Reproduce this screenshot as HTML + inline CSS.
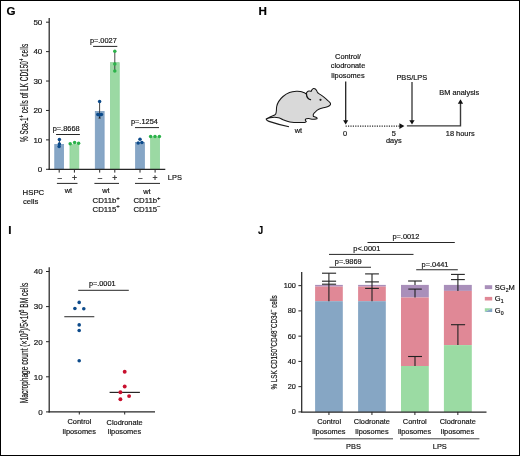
<!DOCTYPE html>
<html><head><meta charset="utf-8"><style>
html,body{margin:0;padding:0;background:#fff;}
body{width:520px;height:456px;overflow:hidden;position:relative;}
#fig{position:absolute;left:0;top:0;width:520px;height:456px;box-sizing:border-box;border:1px solid #000;}
svg{position:absolute;left:0;top:0;will-change:transform;}
text{font-family:"Liberation Sans", sans-serif;stroke:currentColor;stroke-width:0.18px;}
</style></head><body>
<div id="fig"></div>
<svg width="520" height="456" viewBox="0 0 520 456" font-family='"Liberation Sans", sans-serif'>
<text x="6.6" y="14.95" font-size="11.6" font-weight="bold" fill="#000" >G</text>
<line x1="49.2" y1="17.9" x2="49.2" y2="169.9" stroke="#262626" stroke-width="1.25"/>
<line x1="46" y1="169.3" x2="49.2" y2="169.3" stroke="#262626" stroke-width="1"/>
<text x="37.86" y="172.11" font-size="8.0" font-weight="normal" fill="#1c1c1c" >0</text>
<line x1="46" y1="139.88" x2="49.2" y2="139.88" stroke="#262626" stroke-width="1"/>
<text x="33.41" y="142.69" font-size="8.0" font-weight="normal" fill="#1c1c1c" >10</text>
<line x1="46" y1="110.46" x2="49.2" y2="110.46" stroke="#262626" stroke-width="1"/>
<text x="33.41" y="113.27" font-size="8.0" font-weight="normal" fill="#1c1c1c" >20</text>
<line x1="46" y1="81.04" x2="49.2" y2="81.04" stroke="#262626" stroke-width="1"/>
<text x="33.41" y="83.85" font-size="8.0" font-weight="normal" fill="#1c1c1c" >30</text>
<line x1="46" y1="51.62" x2="49.2" y2="51.62" stroke="#262626" stroke-width="1"/>
<text x="33.41" y="54.43" font-size="8.0" font-weight="normal" fill="#1c1c1c" >40</text>
<line x1="46" y1="22.2" x2="49.2" y2="22.2" stroke="#262626" stroke-width="1"/>
<text x="33.41" y="25.01" font-size="8.0" font-weight="normal" fill="#1c1c1c" >50</text>
<rect x="54.75" y="144.35" width="8.9" height="24.95" fill="#86a6c6" stroke="#7a9cbf" stroke-width="0.7"/>
<line x1="59.2" y1="169.3" x2="59.2" y2="172.6" stroke="#262626" stroke-width="1"/>
<rect x="69.95" y="144.55" width="8.9" height="24.75" fill="#9bd9a3" stroke="#8bd297" stroke-width="0.7"/>
<line x1="74.4" y1="169.3" x2="74.4" y2="172.6" stroke="#262626" stroke-width="1"/>
<rect x="95.25" y="111.35" width="8.9" height="57.95" fill="#86a6c6" stroke="#7a9cbf" stroke-width="0.7"/>
<line x1="99.7" y1="169.3" x2="99.7" y2="172.6" stroke="#262626" stroke-width="1"/>
<rect x="110.35" y="62.65" width="8.9" height="106.65" fill="#9bd9a3" stroke="#8bd297" stroke-width="0.7"/>
<line x1="114.8" y1="169.3" x2="114.8" y2="172.6" stroke="#262626" stroke-width="1"/>
<rect x="135.55" y="142.55" width="8.9" height="26.75" fill="#86a6c6" stroke="#7a9cbf" stroke-width="0.7"/>
<line x1="140" y1="169.3" x2="140" y2="172.6" stroke="#262626" stroke-width="1"/>
<rect x="150.65" y="136.95" width="8.9" height="32.35" fill="#9bd9a3" stroke="#8bd297" stroke-width="0.7"/>
<line x1="155.1" y1="169.3" x2="155.1" y2="172.6" stroke="#262626" stroke-width="1"/>
<line x1="48.6" y1="169.3" x2="165.3" y2="169.3" stroke="#262626" stroke-width="1.25"/>
<line x1="59.4" y1="139.4" x2="59.4" y2="146.5" stroke="#333" stroke-width="0.9"/>
<line x1="99.6" y1="101.4" x2="99.6" y2="118.2" stroke="#333" stroke-width="0.9"/>
<line x1="114.8" y1="51.3" x2="114.8" y2="70.9" stroke="#333" stroke-width="0.9"/>
<path d="M98.4,118.6 L100.8,118.6 L99.6,115.8 Z" fill="#222"/>
<circle cx="59.4" cy="139.4" r="1.75" fill="#0c4a8a"/>
<circle cx="59.4" cy="144.1" r="1.75" fill="#0c4a8a"/>
<circle cx="59.1" cy="146.4" r="1.75" fill="#0c4a8a"/>
<circle cx="97.8" cy="114.6" r="1.75" fill="#0c4a8a"/>
<circle cx="101.4" cy="114.6" r="1.75" fill="#0c4a8a"/>
<circle cx="99.6" cy="114.9" r="1.75" fill="#0c4a8a"/>
<circle cx="99.6" cy="101.4" r="1.75" fill="#0c4a8a"/>
<circle cx="140" cy="139.2" r="1.75" fill="#0c4a8a"/>
<circle cx="138.2" cy="143" r="1.75" fill="#0c4a8a"/>
<circle cx="141.9" cy="142.4" r="1.75" fill="#0c4a8a"/>
<circle cx="70.2" cy="143.8" r="1.75" fill="#2cb24a"/>
<circle cx="74.6" cy="142.4" r="1.75" fill="#2cb24a"/>
<circle cx="78.6" cy="143.3" r="1.75" fill="#2cb24a"/>
<circle cx="114.8" cy="51.3" r="1.75" fill="#2cb24a"/>
<circle cx="114.8" cy="64.1" r="1.75" fill="#2cb24a"/>
<circle cx="114.8" cy="70.9" r="1.75" fill="#2cb24a"/>
<circle cx="150.6" cy="136.6" r="1.75" fill="#2cb24a"/>
<circle cx="155" cy="136.6" r="1.75" fill="#2cb24a"/>
<circle cx="159.4" cy="136.6" r="1.75" fill="#2cb24a"/>
<text x="52.7" y="130.6" font-size="7.4" font-weight="normal" fill="#1c1c1c" >p=.8668</text>
<line x1="56.1" y1="134.5" x2="79.9" y2="134.5" stroke="#262626" stroke-width="1"/>
<text x="89.9" y="42.8" font-size="7.4" font-weight="normal" fill="#1c1c1c" >p=.0027</text>
<line x1="93.1" y1="46.4" x2="117.3" y2="46.4" stroke="#262626" stroke-width="1"/>
<text x="130.95" y="124" font-size="7.4" font-weight="normal" fill="#1c1c1c" >p=.1254</text>
<line x1="135" y1="127.6" x2="159" y2="127.6" stroke="#262626" stroke-width="1"/>
<text x="56.88" y="180.76" font-size="8.6" font-weight="normal" fill="#1c1c1c" >−</text>
<text x="97.28" y="180.76" font-size="8.6" font-weight="normal" fill="#1c1c1c" >−</text>
<text x="137.38" y="180.76" font-size="8.6" font-weight="normal" fill="#1c1c1c" >−</text>
<text x="72.1" y="180.76" font-size="8.6" font-weight="normal" fill="#1c1c1c" >+</text>
<text x="112.3" y="180.76" font-size="8.6" font-weight="normal" fill="#1c1c1c" >+</text>
<text x="152.6" y="180.76" font-size="8.6" font-weight="normal" fill="#1c1c1c" >+</text>
<text x="167.87" y="180.3" font-size="7.4" font-weight="normal" fill="#1c1c1c" >LPS</text>
<line x1="56.9" y1="183.4" x2="77.5" y2="183.4" stroke="#262626" stroke-width="1"/>
<line x1="94.4" y1="183.4" x2="119" y2="183.4" stroke="#262626" stroke-width="1"/>
<line x1="135" y1="183.4" x2="160" y2="183.4" stroke="#262626" stroke-width="1"/>
<text x="64.76" y="193.1" font-size="7.4" font-weight="normal" fill="#1c1c1c" >wt</text>
<text x="102.29" y="192.9" font-size="7.4" font-weight="normal" fill="#1c1c1c" >wt</text>
<text x="143.19" y="193.6" font-size="7.4" font-weight="normal" fill="#1c1c1c" >wt</text>
<text x="92.61" y="202.9" font-size="7.8" font-weight="normal" fill="#1c1c1c" >CD11b<tspan font-size="6.0" dy="-3.3">+</tspan></text>
<text x="92.61" y="211.6" font-size="7.8" font-weight="normal" fill="#1c1c1c" >CD115<tspan font-size="6.0" dy="-3.3">+</tspan></text>
<text x="133.41" y="203.1" font-size="7.8" font-weight="normal" fill="#1c1c1c" >CD11b<tspan font-size="6.0" dy="-3.3">+</tspan></text>
<text x="133.41" y="211.5" font-size="7.8" font-weight="normal" fill="#1c1c1c" >CD115<tspan font-size="6.0" dy="-3.3">−</tspan></text>
<text x="22.56" y="195.4" font-size="7.8" font-weight="normal" fill="#1c1c1c" >HSPC</text>
<text x="22.88" y="203.8" font-size="7.7" font-weight="normal" fill="#1c1c1c" >cells</text>
<text transform="translate(27.5,92.9) rotate(-90)" x="0" y="0" font-size="10" text-anchor="middle" textLength="98.4" lengthAdjust="spacingAndGlyphs" fill="#1c1c1c"><tspan font-size="10" dy="0">% Sca-1</tspan><tspan font-size="6.50" dy="-3.80">+</tspan><tspan font-size="10" dy="3.80"> cells of LK CD150</tspan><tspan font-size="6.50" dy="-3.80">+</tspan><tspan font-size="10" dy="3.80"> cells</tspan></text>
<text x="258.42" y="15" font-size="11.6" font-weight="bold" fill="#000" >H</text>
<path d="M266.3,118.9 C267,118.55 269.02,117.52 270.5,116.8 C271.98,116.08 274.23,115.48 275.2,114.6 C276.17,113.72 276.05,112.85 276.3,111.5 C276.55,110.15 276.32,108.15 276.7,106.5 C277.08,104.85 277.55,103.27 278.6,101.6 C279.65,99.93 281.18,98 283,96.5 C284.82,95 287.25,93.48 289.5,92.6 C291.75,91.72 294.67,91.38 296.5,91.2 C298.33,91.02 299.32,91.27 300.5,91.5 C301.68,91.73 302.67,92.23 303.6,92.6 C304.53,92.97 305.68,93.52 306.1,93.7 C306.3,93.38 306.82,92.23 307.3,91.8 C307.78,91.37 308.37,91.17 309,91.1 C309.63,91.03 310.75,91.35 311.1,91.4 C311.23,91.13 311.48,90.27 311.9,89.8 C312.32,89.33 313.03,88.73 313.6,88.6 C314.17,88.47 314.8,88.68 315.3,89 C315.8,89.32 316.22,89.88 316.6,90.5 C316.98,91.12 317.1,92.1 317.6,92.7 C318.1,93.3 318.82,93.57 319.6,94.1 C320.38,94.63 321.28,95.15 322.3,95.9 C323.32,96.65 324.6,97.67 325.7,98.6 C326.8,99.53 328.08,100.65 328.9,101.5 C329.72,102.35 330.52,103 330.6,103.7 C330.68,104.4 330.2,105.12 329.4,105.7 C328.6,106.28 327.27,106.73 325.8,107.2 C324.33,107.67 322.02,108.02 320.6,108.5 C319.18,108.98 318.23,109.47 317.3,110.1 C316.37,110.73 315.67,111.57 315,112.3 C314.33,113.03 313.57,113.82 313.3,114.5 C313.03,115.18 313.38,116.08 313.4,116.4 C313.82,116.53 315.27,116.92 315.9,117.2 C316.53,117.48 317.22,117.78 317.2,118.1 C317.18,118.42 316.55,118.92 315.8,119.1 C315.05,119.28 313.87,119.28 312.7,119.2 C311.53,119.12 309.95,118.65 308.8,118.6 C307.65,118.55 306.3,118.85 305.8,118.9 C305.72,119.1 305.22,119.65 305.3,120.1 C305.38,120.55 306.13,121.35 306.3,121.6 C306.05,121.73 306.18,122.25 304.8,122.4 C303.42,122.55 300.13,122.52 298,122.5 C295.87,122.48 293.8,122.52 292,122.3 C290.2,122.08 288.78,121.68 287.2,121.2 C285.62,120.72 283.95,119.97 282.5,119.4 C281.05,118.83 279.83,118.15 278.5,117.8 C277.17,117.45 275.88,117.3 274.5,117.3 C273.12,117.3 271.57,117.53 270.2,117.8 C268.83,118.07 266.95,118.72 266.3,118.9 Z" fill="#d9d9d9" stroke="#161616" stroke-width="1.05" stroke-linejoin="round"/>
<path d="M266.3,118.9 C266.2,120 267.3,120.8 269,121.4 C274.5,123.3 282,125.3 289,126.7" fill="none" stroke="#1c1c1c" stroke-width="1.15"/>
<path d="M306.4,93.6 C306.4,95.6 307,97.4 308.2,98.4 C308.9,99 309.6,99.4 310.5,99.6" fill="none" stroke="#111" stroke-width="1.3" stroke-linecap="round"/>
<circle cx="320.5" cy="99.8" r="1.1" fill="#222"/>
<text x="294.74" y="133.4" font-size="7.4" font-weight="normal" fill="#1c1c1c" >wt</text>
<text x="335.06" y="58.6" font-size="7.4" font-weight="normal" fill="#1c1c1c" >Control/</text>
<text x="330.78" y="68.1" font-size="7.4" font-weight="normal" fill="#1c1c1c" >clodronate</text>
<text x="331.32" y="77.5" font-size="7.4" font-weight="normal" fill="#1c1c1c" >liposomes</text>
<line x1="345.7" y1="81.6" x2="345.7" y2="121" stroke="#1a1a1a" stroke-width="1.25"/>
<path d="M343.1,120.2 L348.2,120.2 L345.7,124.5 Z" fill="#111"/>
<line x1="345.6" y1="126.1" x2="400.5" y2="126.1" stroke="#2a2a2a" stroke-width="1.3" stroke-dasharray="1.2,1.2"/>
<path d="M399.4,123.2 L404.4,126.1 L399.4,129.0 Z" fill="#111"/>
<text x="343.04" y="135.8" font-size="7.4" font-weight="normal" fill="#1c1c1c" >0</text>
<text x="391.75" y="135.8" font-size="7.4" font-weight="normal" fill="#1c1c1c" >5</text>
<text x="386.01" y="143.4" font-size="7.4" font-weight="normal" fill="#1c1c1c" >days</text>
<text x="396.39" y="79.8" font-size="7.4" font-weight="normal" fill="#1c1c1c" >PBS/LPS</text>
<line x1="412" y1="81.9" x2="412" y2="121" stroke="#3a3a3a" stroke-width="1.35"/>
<path d="M409.3,120.3 L414.6,120.3 L412.0,124.5 Z" fill="#111"/>
<path d="M406.9,125.85 L460.5,125.85 L460.5,103" fill="none" stroke="#3a3a3a" stroke-width="1.4"/>
<path d="M457.8,103.8 L463.1,103.8 L460.5,99.2 Z" fill="#111"/>
<text x="439.34" y="95.1" font-size="7.4" font-weight="normal" fill="#1c1c1c" >BM analysis</text>
<text x="445.85" y="135.7" font-size="7.4" font-weight="normal" fill="#1c1c1c" >18 hours</text>
<text x="8.2" y="233.8" font-size="11.6" font-weight="bold" fill="#000" >I</text>
<line x1="49.2" y1="267.3" x2="49.2" y2="412.5" stroke="#262626" stroke-width="1.25"/>
<line x1="46" y1="411.9" x2="49.2" y2="411.9" stroke="#262626" stroke-width="1"/>
<text x="38.26" y="414.71" font-size="8.0" font-weight="normal" fill="#1c1c1c" >0</text>
<line x1="46" y1="376.8" x2="49.2" y2="376.8" stroke="#262626" stroke-width="1"/>
<text x="33.81" y="379.61" font-size="8.0" font-weight="normal" fill="#1c1c1c" >10</text>
<line x1="46" y1="341.7" x2="49.2" y2="341.7" stroke="#262626" stroke-width="1"/>
<text x="33.81" y="344.51" font-size="8.0" font-weight="normal" fill="#1c1c1c" >20</text>
<line x1="46" y1="306.6" x2="49.2" y2="306.6" stroke="#262626" stroke-width="1"/>
<text x="33.81" y="309.41" font-size="8.0" font-weight="normal" fill="#1c1c1c" >30</text>
<line x1="46" y1="271.5" x2="49.2" y2="271.5" stroke="#262626" stroke-width="1"/>
<text x="33.81" y="274.31" font-size="8.0" font-weight="normal" fill="#1c1c1c" >40</text>
<line x1="48.6" y1="411.9" x2="155" y2="411.9" stroke="#262626" stroke-width="1.25"/>
<line x1="79.3" y1="411.9" x2="79.3" y2="414.5" stroke="#262626" stroke-width="1"/>
<line x1="124.7" y1="411.9" x2="124.7" y2="414.5" stroke="#262626" stroke-width="1"/>
<line x1="78.2" y1="290.3" x2="128.8" y2="290.3" stroke="#262626" stroke-width="1"/>
<text x="88.95" y="285.9" font-size="7.3" font-weight="normal" fill="#1c1c1c" >p=.0001</text>
<line x1="64.3" y1="316.7" x2="94.3" y2="316.7" stroke="#3a3a3a" stroke-width="1.1"/>
<line x1="109.6" y1="392.4" x2="139.9" y2="392.4" stroke="#262626" stroke-width="1.2"/>
<circle cx="79.2" cy="302.4" r="1.8" fill="#0c4a8a"/>
<circle cx="74.9" cy="308.5" r="1.8" fill="#0c4a8a"/>
<circle cx="83.8" cy="308.8" r="1.8" fill="#0c4a8a"/>
<circle cx="79.2" cy="324.9" r="1.8" fill="#0c4a8a"/>
<circle cx="79.2" cy="330.5" r="1.8" fill="#0c4a8a"/>
<circle cx="79.2" cy="360.8" r="1.8" fill="#0c4a8a"/>
<circle cx="124.7" cy="371.8" r="1.95" fill="#c8102e"/>
<circle cx="124.7" cy="386.5" r="1.95" fill="#c8102e"/>
<circle cx="120.4" cy="392.3" r="1.95" fill="#c8102e"/>
<circle cx="129.1" cy="396.1" r="1.95" fill="#c8102e"/>
<circle cx="120.4" cy="399.3" r="1.95" fill="#c8102e"/>
<text x="67.53" y="424.4" font-size="7.4" font-weight="normal" fill="#1c1c1c" >Control</text>
<text x="62.62" y="433.8" font-size="7.4" font-weight="normal" fill="#1c1c1c" >liposomes</text>
<text x="106.58" y="424.5" font-size="7.4" font-weight="normal" fill="#1c1c1c" >Clodronate</text>
<text x="107.82" y="433.5" font-size="7.4" font-weight="normal" fill="#1c1c1c" >liposomes</text>
<text transform="translate(28.0,343.0) rotate(-90)" x="0" y="0" font-size="10" text-anchor="middle" textLength="120.6" lengthAdjust="spacingAndGlyphs" fill="#1c1c1c"><tspan font-size="10" dy="0">Macrophage count (×10</tspan><tspan font-size="6.50" dy="-3.80">3</tspan><tspan font-size="10" dy="3.80">)/5×10</tspan><tspan font-size="6.50" dy="-3.80">5</tspan><tspan font-size="10" dy="3.80"> BM cells</tspan></text>
<text transform="translate(258.06,234) scale(0.8,1)" x="0" y="0" font-size="11.6" font-weight="bold" fill="#000" >J</text>
<line x1="301.7" y1="272" x2="301.7" y2="412.3" stroke="#262626" stroke-width="1.25"/>
<line x1="298.4" y1="411.9" x2="301.7" y2="411.9" stroke="#262626" stroke-width="1"/>
<text x="291.82" y="414.46" font-size="7.3" font-weight="normal" fill="#1c1c1c" >0</text>
<line x1="298.4" y1="386.65" x2="301.7" y2="386.65" stroke="#262626" stroke-width="1"/>
<text x="287.76" y="389.21" font-size="7.3" font-weight="normal" fill="#1c1c1c" >20</text>
<line x1="298.4" y1="361.4" x2="301.7" y2="361.4" stroke="#262626" stroke-width="1"/>
<text x="287.76" y="363.96" font-size="7.3" font-weight="normal" fill="#1c1c1c" >40</text>
<line x1="298.4" y1="336.15" x2="301.7" y2="336.15" stroke="#262626" stroke-width="1"/>
<text x="287.76" y="338.71" font-size="7.3" font-weight="normal" fill="#1c1c1c" >60</text>
<line x1="298.4" y1="310.9" x2="301.7" y2="310.9" stroke="#262626" stroke-width="1"/>
<text x="287.76" y="313.46" font-size="7.3" font-weight="normal" fill="#1c1c1c" >80</text>
<line x1="298.4" y1="285.65" x2="301.7" y2="285.65" stroke="#262626" stroke-width="1"/>
<text x="283.7" y="288.21" font-size="7.3" font-weight="normal" fill="#1c1c1c" >100</text>
<rect x="315.1" y="284.9" width="27.7" height="1.7" fill="#a98fba"/>
<rect x="315.1" y="286.6" width="27.7" height="14.6" fill="#e08896"/>
<rect x="315.1" y="301.2" width="27.7" height="110.7" fill="#86a6c4"/>
<line x1="328.95" y1="411.9" x2="328.95" y2="415" stroke="#262626" stroke-width="1"/>
<rect x="358.1" y="284.9" width="27.7" height="1.7" fill="#a98fba"/>
<rect x="358.1" y="286.6" width="27.7" height="14.6" fill="#e08896"/>
<rect x="358.1" y="301.2" width="27.7" height="110.7" fill="#86a6c4"/>
<line x1="371.95" y1="411.9" x2="371.95" y2="415" stroke="#262626" stroke-width="1"/>
<rect x="401" y="284.9" width="27.8" height="12.6" fill="#a98fba"/>
<rect x="401" y="297.5" width="27.8" height="68.5" fill="#e08896"/>
<rect x="401" y="366" width="27.8" height="45.9" fill="#9bdba3"/>
<line x1="414.9" y1="411.9" x2="414.9" y2="415" stroke="#262626" stroke-width="1"/>
<rect x="443.9" y="284.9" width="27.9" height="6" fill="#a98fba"/>
<rect x="443.9" y="290.9" width="27.9" height="54.2" fill="#e08896"/>
<rect x="443.9" y="345.1" width="27.9" height="66.8" fill="#9bdba3"/>
<line x1="457.85" y1="411.9" x2="457.85" y2="415" stroke="#262626" stroke-width="1"/>
<line x1="301.1" y1="412" x2="486.5" y2="412" stroke="#262626" stroke-width="1.25"/>
<line x1="328.9" y1="273.2" x2="328.9" y2="301.2" stroke="#222" stroke-width="1.1"/>
<line x1="322" y1="273.2" x2="336.1" y2="273.2" stroke="#222" stroke-width="1.1"/>
<line x1="322" y1="281.2" x2="336.1" y2="281.2" stroke="#222" stroke-width="1.1"/>
<line x1="322" y1="284.2" x2="336.1" y2="284.2" stroke="#222" stroke-width="1.1"/>
<line x1="372" y1="273.9" x2="372" y2="301.2" stroke="#222" stroke-width="1.1"/>
<line x1="365.1" y1="273.9" x2="378.9" y2="273.9" stroke="#222" stroke-width="1.1"/>
<line x1="365.1" y1="281.9" x2="378.9" y2="281.9" stroke="#222" stroke-width="1.1"/>
<line x1="365.1" y1="288.4" x2="378.9" y2="288.4" stroke="#222" stroke-width="1.1"/>
<line x1="415" y1="281" x2="415" y2="284.9" stroke="#222" stroke-width="1.1"/>
<line x1="408.1" y1="281" x2="421.9" y2="281" stroke="#222" stroke-width="1.1"/>
<line x1="415" y1="289.1" x2="415" y2="297.5" stroke="#222" stroke-width="1.1"/>
<line x1="408.3" y1="289.1" x2="421.8" y2="289.1" stroke="#222" stroke-width="1.1"/>
<line x1="415" y1="356.5" x2="415" y2="366" stroke="#222" stroke-width="1.1"/>
<line x1="408.1" y1="356.5" x2="422" y2="356.5" stroke="#222" stroke-width="1.1"/>
<line x1="457.9" y1="274.4" x2="457.9" y2="290.9" stroke="#222" stroke-width="1.1"/>
<line x1="451" y1="274.4" x2="464.8" y2="274.4" stroke="#222" stroke-width="1.1"/>
<line x1="451" y1="279.6" x2="464.8" y2="279.6" stroke="#222" stroke-width="1.1"/>
<line x1="457.9" y1="324.7" x2="457.9" y2="345.1" stroke="#222" stroke-width="1.1"/>
<line x1="451" y1="324.7" x2="465.1" y2="324.7" stroke="#222" stroke-width="1.1"/>
<line x1="367.5" y1="242.5" x2="454.8" y2="242.5" stroke="#262626" stroke-width="1"/>
<text x="392.42" y="239.1" font-size="7.4" font-weight="normal" fill="#1c1c1c" >p=.0012</text>
<line x1="329" y1="254.4" x2="413.5" y2="254.4" stroke="#262626" stroke-width="1"/>
<text x="353.34" y="250.8" font-size="7.4" font-weight="normal" fill="#1c1c1c" >p&lt;.0001</text>
<line x1="329.4" y1="267.25" x2="371" y2="267.25" stroke="#262626" stroke-width="1"/>
<text x="334.79" y="263.7" font-size="7.4" font-weight="normal" fill="#1c1c1c" >p=.9869</text>
<line x1="416.2" y1="269.75" x2="457.8" y2="269.75" stroke="#262626" stroke-width="1"/>
<text x="421.57" y="266.6" font-size="7.4" font-weight="normal" fill="#1c1c1c" >p=.0441</text>
<rect x="484.8" y="285.2" width="7.4" height="3.9" fill="#a98fba"/>
<rect x="484.8" y="296.9" width="7.4" height="3.6" fill="#e08896"/>
<path d="M484.8,308.2 L492.2,308.2 L484.8,312 Z" fill="#9bdba3"/>
<path d="M492.2,308.2 L492.2,312 L484.8,312 Z" fill="#86a6c4"/>
<text x="494.85" y="289.8" font-size="7.5" font-weight="normal" fill="#1c1c1c" >SG<tspan font-size="5.2" dy="2.0">2</tspan><tspan dy="-2.0">M</tspan></text>
<text x="494.82" y="301.4" font-size="7.5" font-weight="normal" fill="#1c1c1c" >G<tspan font-size="5.2" dy="2.0">1</tspan></text>
<text x="494.82" y="312.5" font-size="7.5" font-weight="normal" fill="#1c1c1c" >G<tspan font-size="5.2" dy="2.0">0</tspan></text>
<text x="317.28" y="424.3" font-size="7.4" font-weight="normal" fill="#1c1c1c" >Control</text>
<text x="312.27" y="433.6" font-size="7.4" font-weight="normal" fill="#1c1c1c" >liposomes</text>
<text x="353.83" y="424.3" font-size="7.4" font-weight="normal" fill="#1c1c1c" >Clodronate</text>
<text x="355.37" y="433.6" font-size="7.4" font-weight="normal" fill="#1c1c1c" >liposomes</text>
<text x="402.83" y="424.3" font-size="7.4" font-weight="normal" fill="#1c1c1c" >Control</text>
<text x="397.92" y="433.6" font-size="7.4" font-weight="normal" fill="#1c1c1c" >liposomes</text>
<text x="439.68" y="424.3" font-size="7.4" font-weight="normal" fill="#1c1c1c" >Clodronate</text>
<text x="440.82" y="433.6" font-size="7.4" font-weight="normal" fill="#1c1c1c" >liposomes</text>
<line x1="313.8" y1="438.8" x2="393" y2="438.8" stroke="#444" stroke-width="1"/>
<line x1="400" y1="438.8" x2="479.4" y2="438.8" stroke="#444" stroke-width="1"/>
<text x="346.11" y="449.2" font-size="7.4" font-weight="normal" fill="#1c1c1c" >PBS</text>
<text x="432.77" y="449.2" font-size="7.4" font-weight="normal" fill="#1c1c1c" >LPS</text>
<text transform="translate(276.9,342.4) rotate(-90)" x="0" y="0" font-size="9.0" text-anchor="middle" textLength="94.3" lengthAdjust="spacingAndGlyphs" fill="#1c1c1c"><tspan font-size="9.0" dy="0">% LSK CD150</tspan><tspan font-size="5.85" dy="-3.42">+</tspan><tspan font-size="9.0" dy="3.42">CD48</tspan><tspan font-size="5.85" dy="-3.42">−</tspan><tspan font-size="9.0" dy="3.42">CD34</tspan><tspan font-size="5.85" dy="-3.42">−</tspan><tspan font-size="9.0" dy="3.42"> cells</tspan></text>
</svg>
</body></html>
